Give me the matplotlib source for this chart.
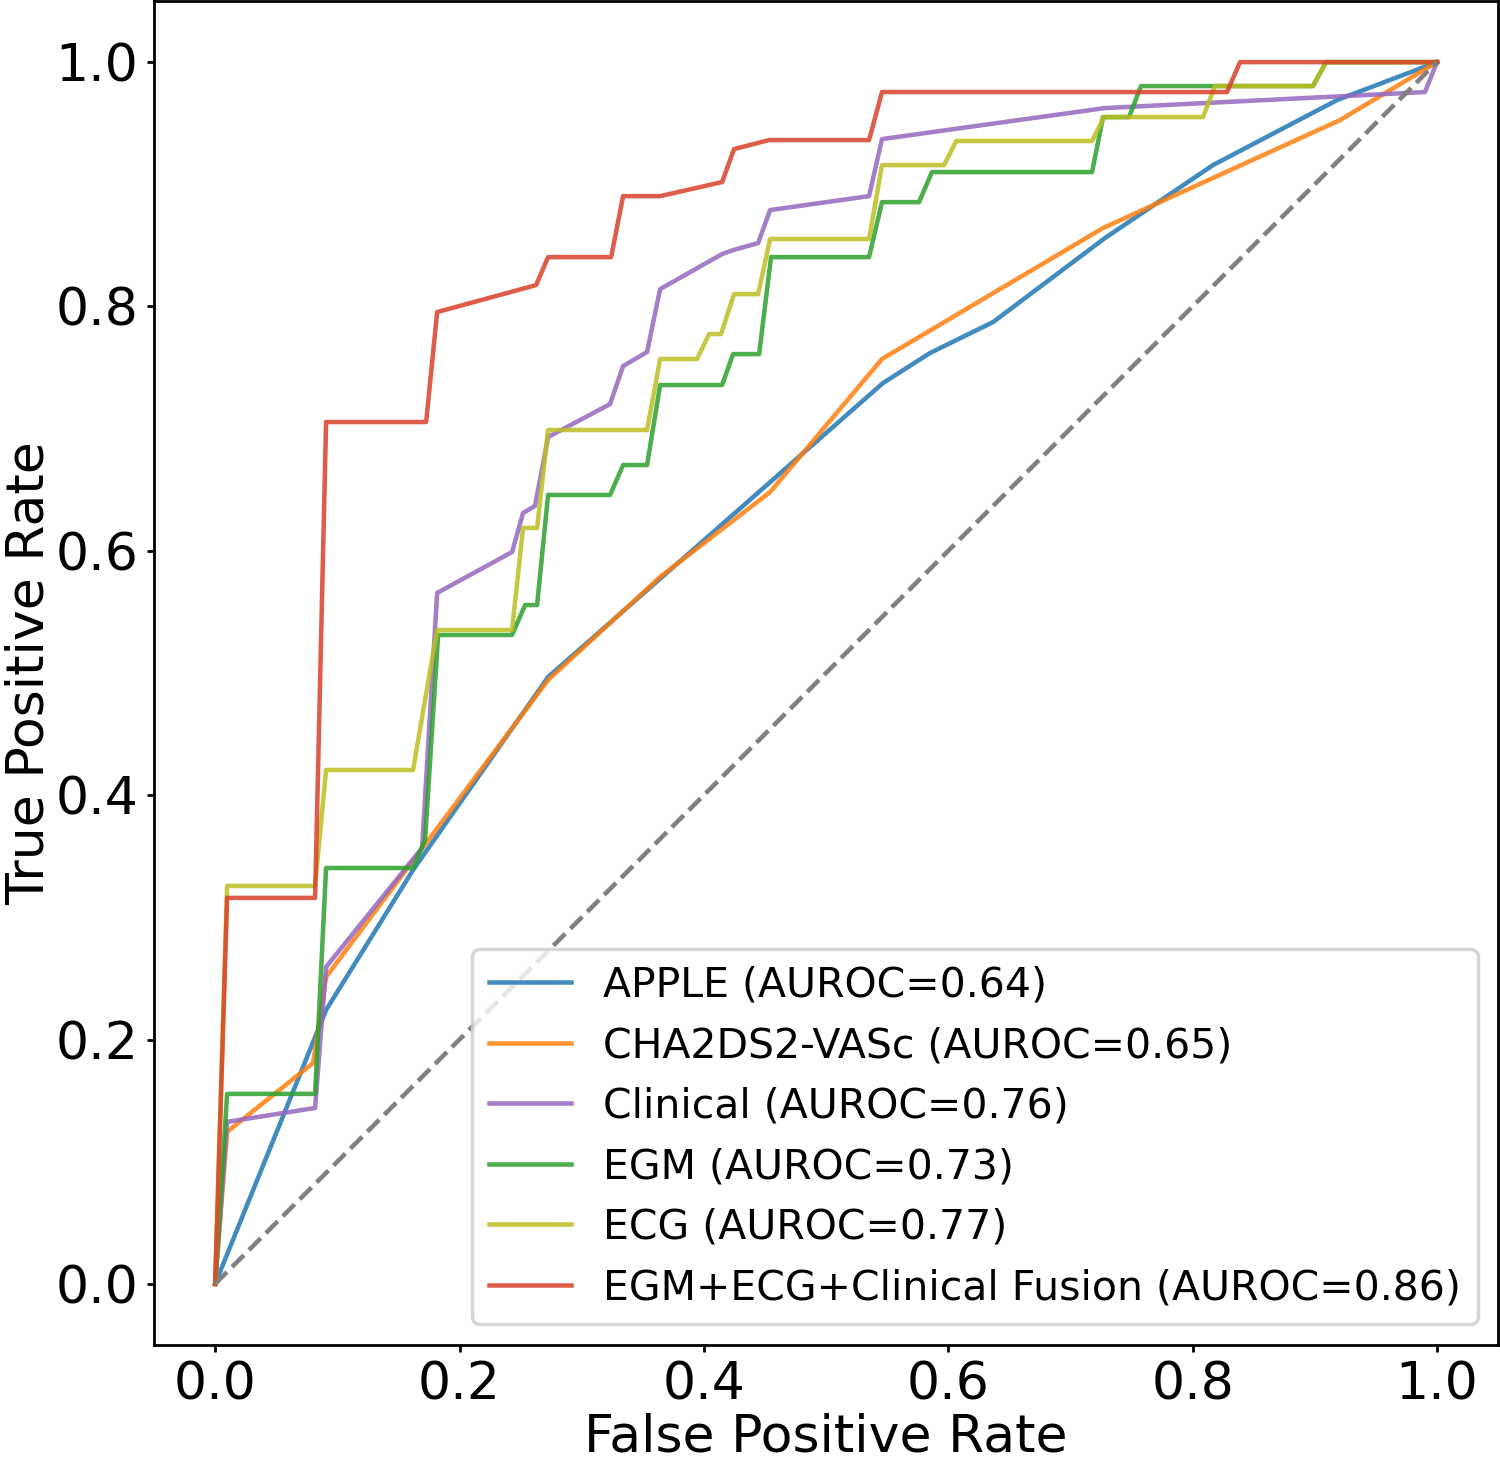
import matplotlib
matplotlib.use("Agg")
import matplotlib.pyplot as plt

# ROC curves (FPR, TPR)
apple_fpr = [0.0, 0.0908, 0.1620, 0.2725, 0.5466, 0.5851, 0.6367, 0.7283, 0.8167, 0.9182, 1.0]
apple_tpr = [0.0, 0.2242, 0.3388, 0.4967, 0.7373, 0.7619, 0.7872, 0.8560, 0.9157, 0.9689, 1.0]

cha_fpr = [0.0, 0.0098, 0.0802, 0.0908, 0.2725, 0.3642, 0.4542, 0.5458, 0.7267, 0.9206, 1.0]
cha_tpr = [0.0, 0.1244, 0.1808, 0.2512, 0.4943, 0.5786, 0.6481, 0.7570, 0.8642, 0.9525, 1.0]

clin_fpr = [0.0, 0.0098, 0.0818, 0.0908, 0.1694, 0.1817, 0.2430, 0.2520, 0.2618, 0.2725,
            0.3232, 0.3339, 0.3535, 0.3642, 0.4149, 0.4239, 0.4444, 0.4542, 0.5352, 0.5458,
            0.7283, 0.9902, 1.0]
clin_tpr = [0.0, 0.1326, 0.1440, 0.2594, 0.3568, 0.5655, 0.5990, 0.6309, 0.6367, 0.6931,
            0.7201, 0.7512, 0.7627, 0.8142, 0.8429, 0.8461, 0.8519, 0.8789, 0.8903, 0.9370,
            0.9624, 0.9755, 1.0]

egm_fpr = [0.0, 0.0098, 0.0818, 0.0908, 0.1620, 0.1718, 0.1825, 0.2430, 0.2537, 0.2635,
           0.2725, 0.3232, 0.3339, 0.3535, 0.3642, 0.4149, 0.4239, 0.4452, 0.4550, 0.5352,
           0.5458, 0.5761, 0.5867, 0.7177, 0.7267, 0.7480, 0.7578, 0.8985, 0.9092, 1.0]
egm_tpr = [0.0, 0.1555, 0.1555, 0.3404, 0.3404, 0.3633, 0.5311, 0.5311, 0.5556, 0.5556,
           0.6457, 0.6457, 0.6702, 0.6702, 0.7357, 0.7357, 0.7610, 0.7610, 0.8404, 0.8404,
           0.8854, 0.8854, 0.9100, 0.9100, 0.9550, 0.9550, 0.9804, 0.9804, 1.0, 1.0]

ecg_fpr = [0.0, 0.0098, 0.0818, 0.0908, 0.1620, 0.1718, 0.1817, 0.2430, 0.2520, 0.2635,
           0.2725, 0.3535, 0.3642, 0.3944, 0.4043, 0.4141, 0.4247, 0.4444, 0.4542, 0.5352,
           0.5458, 0.5966, 0.6064, 0.7177, 0.7275, 0.8085, 0.8183, 0.8985, 0.9092, 1.0]
ecg_tpr = [0.0, 0.3257, 0.3257, 0.4206, 0.4206, 0.4779, 0.5352, 0.5352, 0.6187, 0.6187,
           0.6989, 0.6989, 0.7570, 0.7570, 0.7774, 0.7774, 0.8101, 0.8101, 0.8552, 0.8552,
           0.9157, 0.9157, 0.9354, 0.9354, 0.9550, 0.9550, 0.9804, 0.9804, 1.0, 1.0]

fusion_fpr = [0.0, 0.0098, 0.0818, 0.0908, 0.1727, 0.1817, 0.2627, 0.2725, 0.3241, 0.3339,
              0.3642, 0.4149, 0.4247, 0.4534, 0.5352, 0.5458, 0.8282, 0.8388, 1.0]
fusion_tpr = [0.0, 0.3159, 0.3159, 0.7054, 0.7054, 0.7954, 0.8175, 0.8404, 0.8404, 0.8903,
              0.8903, 0.9018, 0.9288, 0.9362, 0.9362, 0.9755, 0.9755, 1.0, 1.0]

labels = [
    "APPLE (AUROC=0.64)",
    "CHA2DS2-VASc (AUROC=0.65)",
    "Clinical (AUROC=0.76)",
    "EGM (AUROC=0.73)",
    "ECG (AUROC=0.77)",
    "EGM+ECG+Clinical Fusion (AUROC=0.86)",
]
colors = ["tab:blue", "tab:orange", "tab:purple", "tab:green", "tab:olive", "#d9412a"]


def main() -> None:
    curves = [
        (apple_fpr, apple_tpr),
        (cha_fpr, cha_tpr),
        (clin_fpr, clin_tpr),
        (egm_fpr, egm_tpr),
        (ecg_fpr, ecg_tpr),
        (fusion_fpr, fusion_tpr),
    ]

    fig = plt.figure(figsize=(6.0, 5.828), dpi=250)
    ax = fig.add_axes([0.1027, 0.0769, 0.896, 0.9224])

    for (fpr, tpr), label, color in zip(curves, labels, colors):
        ax.plot(fpr, tpr, color=color, lw=1.3, alpha=0.85, label=label)
    ax.plot([0, 1], [0, 1], "--", color="gray", lw=1.3)

    ax.set_xlim(-0.05, 1.05)
    ax.set_ylim(-0.05, 1.05)
    ax.set_xticks([0.0, 0.2, 0.4, 0.6, 0.8, 1.0])
    ax.set_yticks([0.0, 0.2, 0.4, 0.6, 0.8, 1.0])
    ax.tick_params(labelsize=15, length=2, pad=2.5)
    ax.set_xlabel("False Positive Rate", fontsize=15, labelpad=0.5)
    ax.set_ylabel("True Positive Rate", fontsize=15, labelpad=0.3)
    ax.legend(loc="lower right", fontsize=11.8)

    fig.savefig("out.png", dpi=250)


if __name__ == "__main__":
    main()
